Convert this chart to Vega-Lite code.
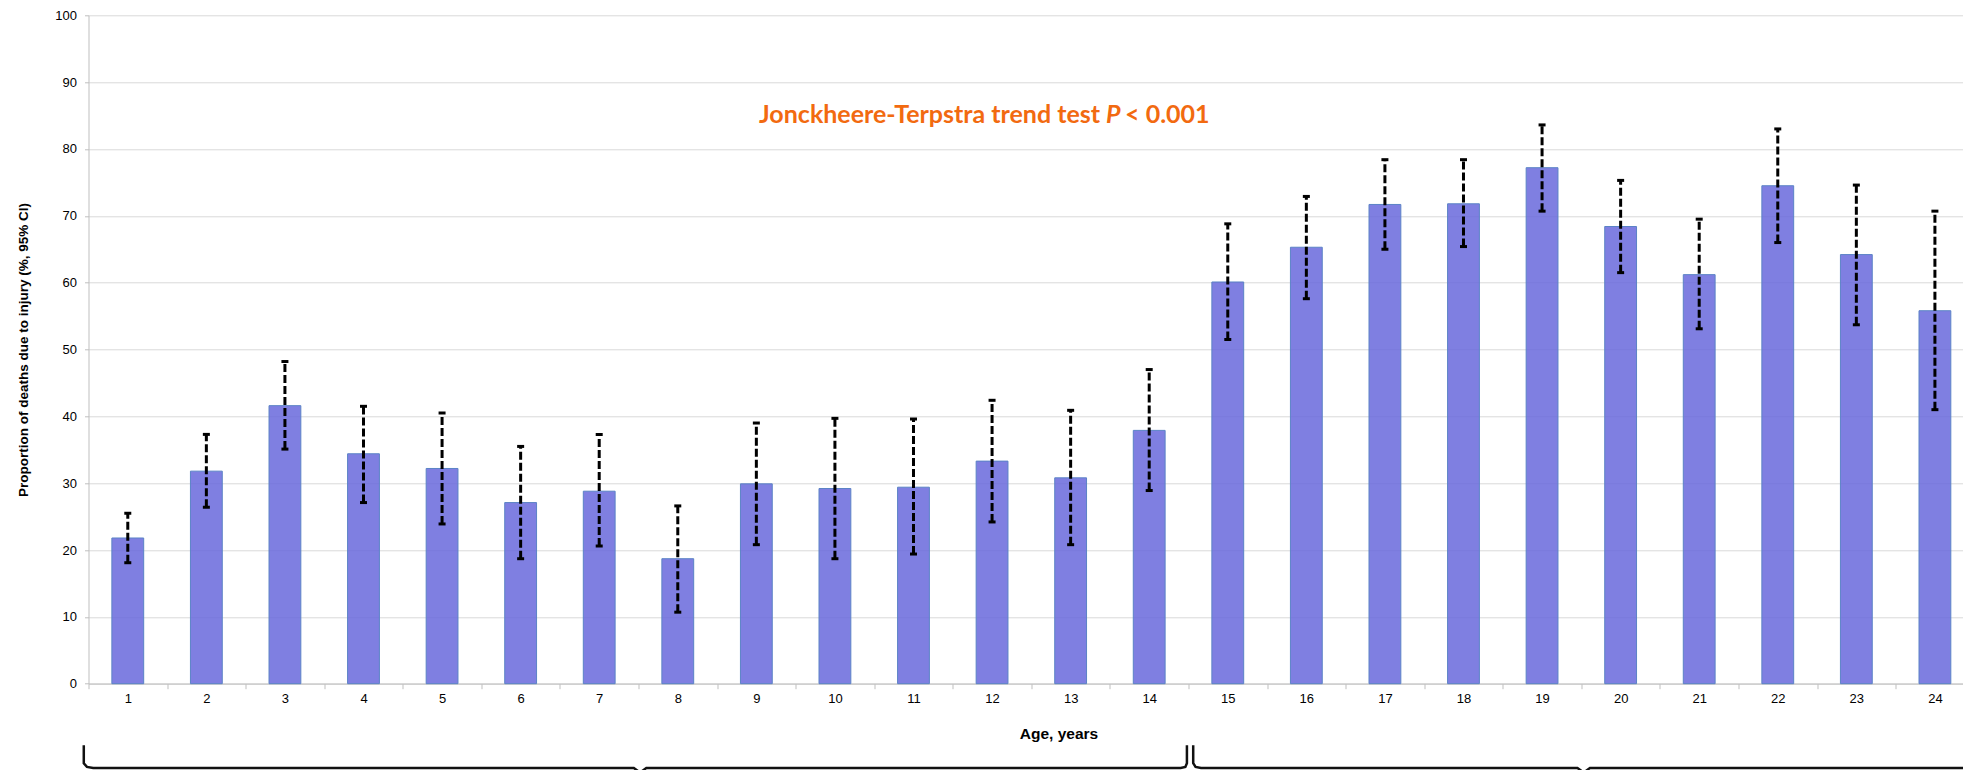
{
  "$schema": "https://vega.github.io/schema/vega-lite/v6.json",
  "width": 1874.5,
  "height": 668.4,
  "autosize": "none",
  "padding": {"left": 88.5, "top": 15.3, "right": 0, "bottom": 86.3},
  "background": "white",
  "config": {"view": {"stroke": null}, "font": "Liberation Sans"},
  "datasets": {
    "ages": [
      {"age": 1, "pct": 21.8, "lo": 18.1, "hi": 25.5},
      {"age": 2, "pct": 31.8, "lo": 26.4, "hi": 37.3},
      {"age": 3, "pct": 41.6, "lo": 35.1, "hi": 48.2},
      {"age": 4, "pct": 34.4, "lo": 27.1, "hi": 41.5},
      {"age": 5, "pct": 32.2, "lo": 23.9, "hi": 40.5},
      {"age": 6, "pct": 27.1, "lo": 18.7, "hi": 35.5},
      {"age": 7, "pct": 28.8, "lo": 20.6, "hi": 37.3},
      {"age": 8, "pct": 18.7, "lo": 10.7, "hi": 26.6},
      {"age": 9, "pct": 29.9, "lo": 20.8, "hi": 39.0},
      {"age": 10, "pct": 29.2, "lo": 18.7, "hi": 39.7},
      {"age": 11, "pct": 29.4, "lo": 19.4, "hi": 39.6},
      {"age": 12, "pct": 33.3, "lo": 24.2, "hi": 42.4},
      {"age": 13, "pct": 30.8, "lo": 20.8, "hi": 40.9},
      {"age": 14, "pct": 37.9, "lo": 28.9, "hi": 47.0},
      {"age": 15, "pct": 60.1, "lo": 51.5, "hi": 68.8},
      {"age": 16, "pct": 65.3, "lo": 57.6, "hi": 72.9},
      {"age": 17, "pct": 71.7, "lo": 65.0, "hi": 78.4},
      {"age": 18, "pct": 71.8, "lo": 65.4, "hi": 78.4},
      {"age": 19, "pct": 77.2, "lo": 70.7, "hi": 83.6},
      {"age": 20, "pct": 68.4, "lo": 61.5, "hi": 75.3},
      {"age": 21, "pct": 61.2, "lo": 53.1, "hi": 69.5},
      {"age": 22, "pct": 74.5, "lo": 66.0, "hi": 83.0},
      {"age": 23, "pct": 64.2, "lo": 53.7, "hi": 74.6},
      {"age": 24, "pct": 55.8, "lo": 41.0, "hi": 70.7}
    ],
    "braces": [
      {"brace": "A", "i": 0, "bx": 0.44, "by": -9.2},
      {"brace": "A", "i": 1, "bx": 0.44, "by": -11.9},
      {"brace": "A", "i": 2, "bx": 0.48, "by": -12.45},
      {"brace": "A", "i": 3, "bx": 0.56, "by": -12.6},
      {"brace": "A", "i": 4, "bx": 7.44, "by": -12.6},
      {"brace": "A", "i": 5, "bx": 7.52, "by": -13.3},
      {"brace": "A", "i": 6, "bx": 7.6, "by": -12.6},
      {"brace": "A", "i": 7, "bx": 14.4, "by": -12.6},
      {"brace": "A", "i": 8, "bx": 14.46, "by": -12.45},
      {"brace": "A", "i": 9, "bx": 14.48, "by": -11.9},
      {"brace": "A", "i": 10, "bx": 14.48, "by": -9.2},
      {"brace": "B", "i": 0, "bx": 14.56, "by": -9.2},
      {"brace": "B", "i": 1, "bx": 14.56, "by": -11.9},
      {"brace": "B", "i": 2, "bx": 14.59, "by": -12.45},
      {"brace": "B", "i": 3, "bx": 14.66, "by": -12.6},
      {"brace": "B", "i": 4, "bx": 19.45, "by": -12.6},
      {"brace": "B", "i": 5, "bx": 19.53, "by": -13.3},
      {"brace": "B", "i": 6, "bx": 19.61, "by": -12.6},
      {"brace": "B", "i": 7, "bx": 25.0, "by": -12.6}
    ]
  },
  "layer": [
    {
      "data": {"name": "ages"},
      "encoding": {
        "x": {
          "field": "age",
          "type": "ordinal",
          "scale": {"range": [0, 1885.7], "paddingInner": 0, "paddingOuter": 0},
          "axis": {
            "title": "Age, years",
            "labelAngle": 0,
            "tickBand": "extent",
            "domainColor": "#BFBFBF",
            "tickColor": "#BFBFBF",
            "tickSize": 5,
            "labelPadding": 4,
            "labelFontSize": 13,
            "labelColor": "#000000",
            "titleFontSize": 15.5,
            "titleFontWeight": "bold",
            "titleColor": "#000000",
            "titlePadding": 21,
            "titleX": 970,
            "grid": false
          }
        }
      },
      "layer": [
        {
          "mark": {"type": "bar", "width": {"band": 0.405}, "fill": "#6969DC", "fillOpacity": 0.85, "stroke": "#5B83C6", "strokeWidth": 1},
          "encoding": {
            "y": {
              "field": "pct",
              "type": "quantitative",
              "scale": {"domain": [0, 100], "nice": false},
              "axis": {
                "title": "Proportion of deaths due to injury (%, 95% CI)",
                "values": [0, 5, 10, 15, 20, 25, 30, 35, 40, 45, 50, 55, 60, 65, 70, 75, 80, 85, 90, 95, 100],
                "labelExpr": "datum.value % 10 === 0 ? datum.label : ''",
                "gridOpacity": {"condition": {"test": "datum.value % 10 !== 0", "value": 0}, "value": 1},
                "gridColor": "#D9D9D9",
                "domainColor": "#BFBFBF",
                "tickColor": "#BFBFBF",
                "tickSize": 4,
                "labelPadding": 8,
                "labelFontSize": 13,
                "labelColor": "#000000",
                "titleFontSize": 13.5,
                "titleFontWeight": "bold",
                "titleColor": "#000000",
                "titlePadding": 24
              }
            }
          }
        },
        {
          "mark": {"type": "rule", "strokeDash": [8, 3], "strokeWidth": 3, "color": "#000000"},
          "encoding": {
            "y": {"field": "lo", "type": "quantitative"},
            "y2": {"field": "hi"}
          }
        },
        {
          "mark": {"type": "tick", "orient": "horizontal", "size": 7, "thickness": 3, "color": "#000000", "opacity": 1},
          "encoding": {"y": {"field": "hi", "type": "quantitative"}}
        },
        {
          "mark": {"type": "tick", "orient": "horizontal", "size": 7, "thickness": 3, "color": "#000000", "opacity": 1},
          "encoding": {"y": {"field": "lo", "type": "quantitative"}}
        },
        {
          "data": {"values": [{}]},
          "mark": {"type": "text", "text": "Jonckheere-Terpstra trend test", "align": "right", "baseline": "alphabetic", "dx": 108, "font": "Lato", "fontWeight": "bold", "fontSize": 25, "color": "#F26A10"},
          "encoding": {"x": {"datum": 12}, "y": {"datum": 83.9}}
        },
        {
          "data": {"values": [{}]},
          "mark": {"type": "text", "text": "P", "align": "left", "baseline": "alphabetic", "dx": 114, "font": "Lato", "fontWeight": "bold", "fontStyle": "italic", "fontSize": 25, "color": "#F26A10"},
          "encoding": {"x": {"datum": 12}, "y": {"datum": 83.9}}
        },
        {
          "data": {"values": [{}]},
          "mark": {"type": "text", "text": "< 0.001", "align": "left", "baseline": "alphabetic", "dx": 133, "font": "Lato", "fontWeight": "bold", "fontSize": 25, "color": "#F26A10"},
          "encoding": {"x": {"datum": 12}, "y": {"datum": 83.9}}
        }
      ]
    },
    {
      "data": {"name": "braces"},
      "mark": {"type": "line", "color": "#111111", "strokeWidth": 2.5, "clip": false},
      "encoding": {
        "x": {"field": "bx", "type": "quantitative", "scale": {"domain": [0.5, 24.5], "range": [0, 1885.7], "nice": false, "zero": false}, "axis": null},
        "y": {"field": "by", "type": "quantitative", "scale": {"domain": [0, 100], "nice": false}, "axis": null},
        "detail": {"field": "brace"},
        "order": {"field": "i"}
      }
    }
  ],
  "resolve": {"scale": {"x": "independent", "y": "independent"}}
}
